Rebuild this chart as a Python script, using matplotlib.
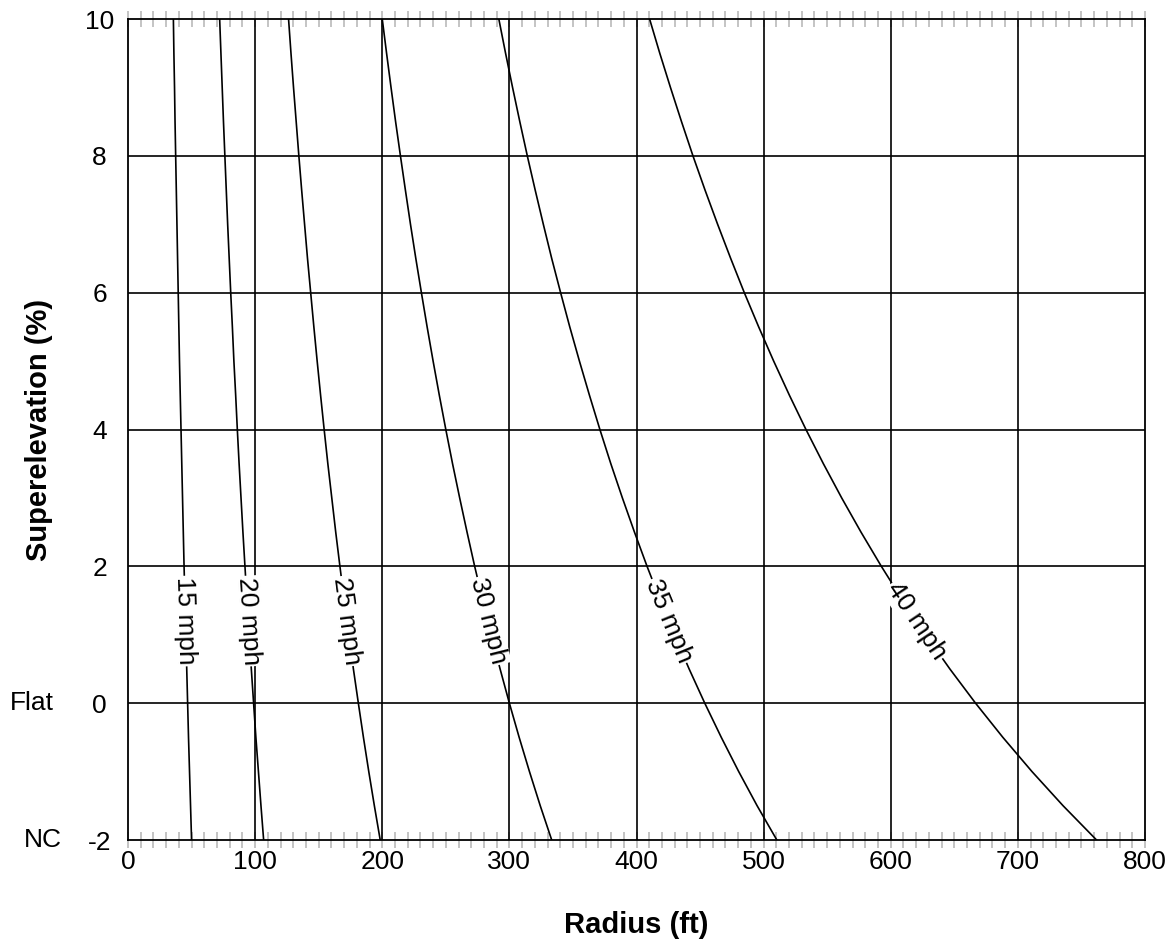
import numpy as np
import matplotlib
matplotlib.use('Agg')
import matplotlib.pyplot as plt

plt.rcParams['font.family'] = ['Liberation Sans', 'DejaVu Sans']
plt.rcParams['axes.unicode_minus'] = False

# superelevation (%) and radius (ft)
superelevation = [10, 9.5, 9, 8.5, 8, 7.5, 7, 6.5, 6, 5.5, 5, 4.5, 4, 3.5, 3,
                  2.5, 2, 1.5, 1, 0.5, 0, -0.5, -1, -1.5, -2]
radius_15 = [35.7, 36.1, 36.6, 37.0, 37.5, 38.0, 38.5, 39.0, 39.5, 40.0, 40.5, 41.1, 41.7,
             42.3, 42.9, 43.5, 44.1, 44.8, 45.5, 46.2, 46.9, 47.6, 48.4, 49.2, 50.0]
radius_20 = [72.1, 73.1, 74.1, 75.1, 76.2, 77.3, 78.4, 79.6, 80.8, 82.1, 83.3, 84.7, 86.0,
             87.4, 88.9, 90.4, 92.0, 93.6, 95.2, 97.0, 98.8, 100.6, 102.6, 104.6, 106.7]
radius_25 = [126.3, 128.2, 130.2, 132.3, 134.4, 136.6, 138.9, 141.2, 143.7, 146.2, 148.8,
             151.5, 154.3, 157.2, 160.3, 163.4, 166.7, 170.1, 173.6, 177.3, 181.2, 185.2,
             189.4, 193.8, 198.4]
radius_30 = [200.0, 203.4, 206.9, 210.5, 214.3, 218.2, 222.2, 226.4, 230.8, 235.3, 240.0,
             244.9, 250.0, 255.3, 260.9, 266.7, 272.7, 279.1, 285.7, 292.7, 300.0, 307.7,
             315.8, 324.3, 333.3]
radius_35 = [291.7, 297.0, 302.5, 308.2, 314.1, 320.3, 326.7, 333.3, 340.3, 347.5, 355.1,
             363.0, 371.2, 379.8, 388.9, 398.4, 408.3, 418.8, 429.8, 441.4, 453.7, 466.7,
             480.4, 494.9, 510.4]
radius_40 = [410.3, 418.3, 426.7, 435.4, 444.4, 453.9, 463.8, 474.1, 484.8, 496.1, 507.9,
             520.3, 533.3, 547.0, 561.4, 576.6, 592.6, 609.5, 627.5, 646.5, 666.7, 688.2,
             711.1, 735.6, 761.9]

speed_labels = ['15 mph', '20 mph', '25 mph', '30 mph', '35 mph', '40 mph']
curves = [radius_15, radius_20, radius_25, radius_30, radius_35, radius_40]

x_ticks = [0, 100, 200, 300, 400, 500, 600, 700, 800]
y_ticks = [-2, 0, 2, 4, 6, 8, 10]
y_tick_labels = ['-2', '0', '2', '4', '6', '8', '10']

label_e = 1.2  # where the curve labels sit

fig = plt.figure(figsize=(11.7, 9.44), dpi=100)
ax = fig.add_axes([128 / 1170, 104 / 944, 1017 / 1170, 821 / 944])

ax.set_xlim(0, 800)
ax.set_ylim(-2, 10)
ax.set_xticks(x_ticks)
ax.set_xticks(np.arange(0, 801, 10), minor=True)
ax.xaxis.remove_overlapping_locs = False
ax.set_yticks(y_ticks)
ax.set_yticklabels(y_tick_labels, ha='center')

# grid drawn as lines so it sits over the gray tick marks
for xv in x_ticks[1:-1]:
    ax.axvline(xv, color='black', linewidth=1.2, zorder=2)
for yv in y_ticks[1:-1]:
    ax.axhline(yv, color='black', linewidth=1.2, zorder=2)

ax.tick_params(axis='x', which='minor', direction='inout', length=12, width=1.4,
               color='#c4c4c4', top=True, bottom=True)
ax.tick_params(axis='x', which='major', length=0, labelsize=19, pad=7)
ax.tick_params(axis='y', which='both', length=0, pad=20.5, labelsize=19)
for sp in ax.spines.values():
    sp.set_color('black')
    sp.set_linewidth(1.3)
    sp.set_zorder(2.6)

for radius in curves:
    ax.plot(radius, superelevation, color='black', linewidth=1.2, zorder=3)

# inline curve labels, rotated along each curve
e_arr = np.array(superelevation[::-1], dtype=float)
for radius, lab in zip(curves, speed_labels):
    r_arr = np.array(radius[::-1], dtype=float)
    r0 = np.interp(label_e, e_arr, r_arr)
    r1 = np.interp(label_e + 0.5, e_arr, r_arr)
    r2 = np.interp(label_e - 0.5, e_arr, r_arr)
    p1 = ax.transData.transform((r1, label_e + 0.5))
    p2 = ax.transData.transform((r2, label_e - 0.5))
    ang = np.degrees(np.arctan2(p2[1] - p1[1], p2[0] - p1[0]))
    ax.text(r0, label_e, lab, fontsize=19, rotation=ang, rotation_mode='anchor',
            ha='center', va='center', zorder=5,
            bbox=dict(facecolor='white', edgecolor='none', pad=1))

ax.text(-0.095, 0, 'Flat', transform=ax.get_yaxis_transform(), fontsize=19,
        ha='center', va='center')
ax.text(-0.084, -2, 'NC', transform=ax.get_yaxis_transform(), fontsize=19,
        ha='center', va='center')

ax.set_xlabel('Radius (ft)', fontsize=21, fontweight='bold')
ax.xaxis.set_label_coords(0.5, -0.087)
ax.set_ylabel('Superelevation (%)', fontsize=21, fontweight='bold')
ax.yaxis.set_label_coords(-0.074, 0.5)

fig.savefig('out.png', dpi=100)
plt.close(fig)
